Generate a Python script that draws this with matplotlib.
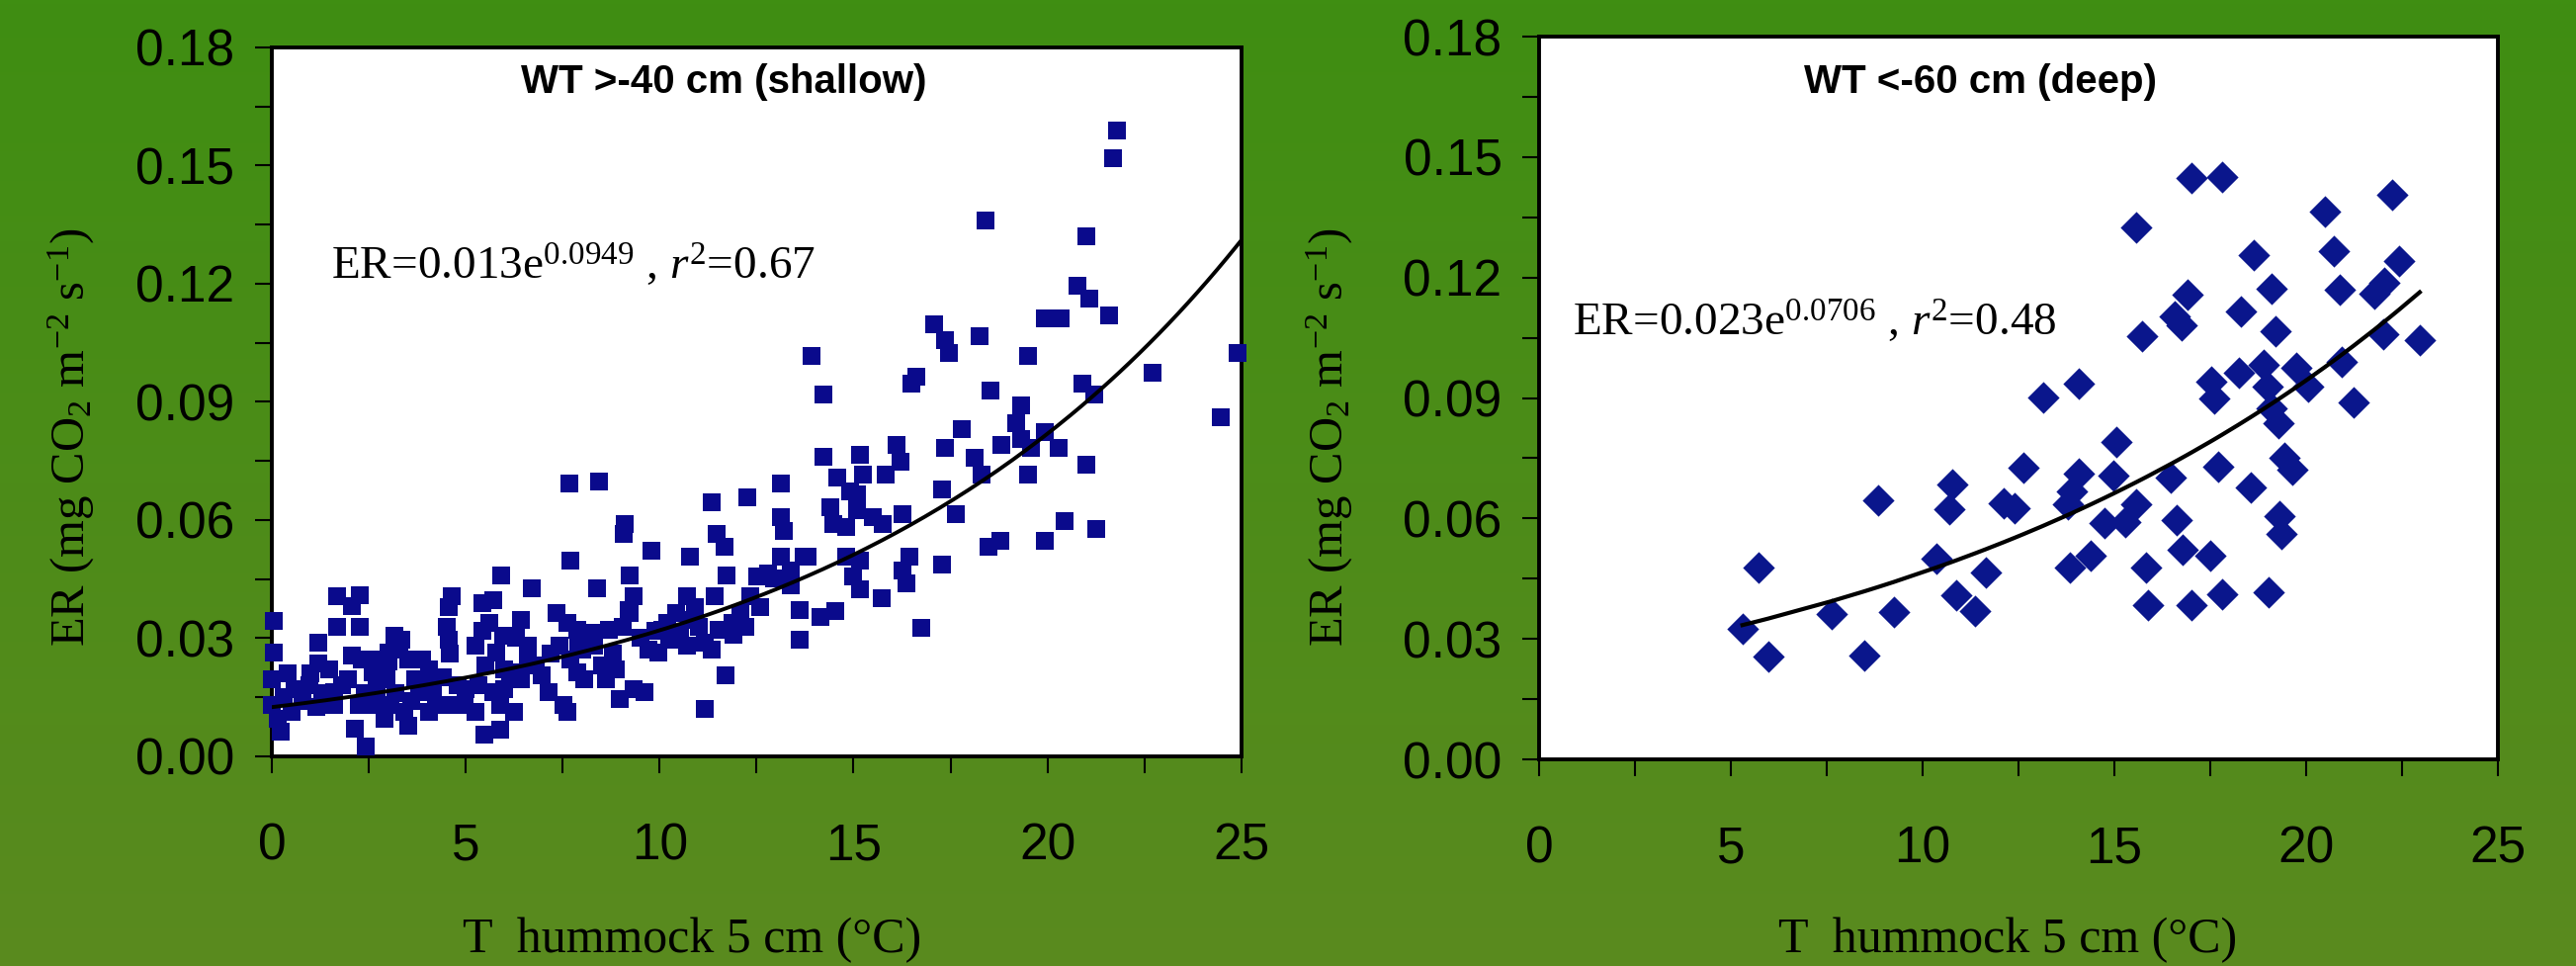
import numpy as np
import matplotlib.pyplot as plt
from matplotlib.ticker import MultipleLocator, FormatStrFormatter
from matplotlib.colors import LinearSegmentedColormap

plt.rcParams['font.family'] = ['Liberation Sans', 'DejaVu Sans']
plt.rcParams['mathtext.fontset'] = 'custom'
plt.rcParams['mathtext.rm'] = 'Liberation Serif'
plt.rcParams['mathtext.it'] = 'Liberation Serif:italic'

# shallow water table (squares)
t_shallow = [
    7.67, 8.45, 11.34, 12.25, 9.11, 9.08, 9.79, 7.70, 10.79, 11.47, 11.68, 9.24, 11.73, 11.43,
    10.7, 9.34, 9.2, 8.38, 6.70, 5.92, 4.65, 4.56, 4.51, 4.56, 4.6, 5.42, 5.7, 1.69, 2.28, 2.06,
    1.69, 2.26, 0.05, 0.05, 1.19, 1.19, 1.47, 0.6, 0.0, 0.01, 0.15, 0.24, 1.15, 2.06, 2.33,
    2.15, 2.42, 3.15, 3.01, 3.33, 3.3, 2.6, 2.7, 2.6, 2.97, 3.06, 3.42, 3.51, 3.88, 4.06, 3.7,
    4.15, 4.24, 1.6, 1.6, 1.97, 2.24, 4.79, 4.97, 5.24, 5.33, 5.5, 5.24, 5.42, 5.6, 5.79, 5.97,
    5.47, 5.88, 5.7, 5.88, 6.24, 6.42, 6.61, 6.15, 6.42, 6.97, 7.15, 7.52, 7.61, 7.33, 7.61,
    7.88, 8.24, 7.42, 7.7, 7.88, 8.06, 8.52, 8.61, 8.88, 8.7, 9.06, 9.24, 8.97, 9.34, 9.61,
    9.97, 10.06, 10.25, 10.52, 10.7, 10.43, 10.79, 11.16, 11.34, 11.16, 11.7, 11.52, 11.88,
    12.07, 12.34, 12.52, 12.8, 0.51, 0.97, 3.79, 2.7, 2.9, 3.51, 4.06, 4.6,
    0.3, 0.8, 1.3, 1.8, 2.4, 3.2, 3.6, 4.4, 5.0, 6.0, 6.6, 7.2, 8.0, 8.3, 9.5, 9.9, 10.2,
    11.0, 11.9, 12.2, 12.6, 10.9, 9.7, 6.8, 7.9, 8.8, 3.0, 4.0, 1.0, 0.4, 6.3, 6.0,
    13.93, 14.23, 17.07, 17.37, 17.46, 18.26, 16.61, 16.48, 19.5, 20.77, 21.07, 19.92, 20.35,
    21.58, 22.72, 24.89, 24.46, 18.52, 20.9, 21.2, 19.33, 19.2, 19.33, 17.8, 17.37, 18.13,
    18.3, 18.8, 19.57, 19.92, 20.3, 21.0, 19.5, 17.29, 17.63, 16.1, 16.2, 15.84, 15.17, 15.25,
    15.08, 14.23, 14.57, 14.91, 13.12, 14.4, 14.48, 14.82, 15.08, 15.5, 15.76, 16.27, 13.12,
    13.2, 13.72, 13.38, 14.82, 15.17, 15.0, 15.17, 16.44, 16.27, 16.36, 17.29, 15.72, 18.48,
    18.78, 19.92, 20.43, 21.27, 13.6, 14.14, 14.53, 13.6, 16.74, 12.95, 13.38, 13.81, 13.12,
    21.8, 21.7, 18.4, 21.0,
]
er_shallow = [
    0.0694, 0.0697, 0.0644, 0.0657, 0.0590, 0.0565, 0.0523, 0.0498, 0.0506, 0.0565, 0.0531,
    0.0460, 0.0460, 0.0406, 0.0406, 0.0406, 0.0372, 0.0427, 0.0427, 0.0460, 0.0406, 0.0380,
    0.0330, 0.0297, 0.0260, 0.0389, 0.0397, 0.0406, 0.0410, 0.0381, 0.0330, 0.0330, 0.0343,
    0.0263, 0.0289, 0.0235, 0.0222, 0.0171, 0.0196, 0.0130, 0.0096, 0.0062, 0.0126, 0.0255,
    0.0247, 0.0071, 0.0025, 0.0305, 0.0263, 0.0297, 0.0272, 0.0213, 0.0171, 0.0130, 0.0196,
    0.0130, 0.0113, 0.0247, 0.0247, 0.0222, 0.0196, 0.0163, 0.0130, 0.0163, 0.0130, 0.0196,
    0.0130, 0.0180, 0.0130, 0.0113, 0.0180, 0.0230, 0.0280, 0.0320, 0.0338, 0.0263, 0.0305,
    0.0054, 0.0067, 0.0163, 0.0130, 0.0113, 0.0347, 0.0280, 0.0213, 0.0196, 0.0205, 0.0163,
    0.0130, 0.0113, 0.0364, 0.0338, 0.0322, 0.0313, 0.0280, 0.0247, 0.0213, 0.0196, 0.0230,
    0.0196, 0.0222, 0.0322, 0.0330, 0.0364, 0.0146, 0.0171, 0.0163, 0.0263, 0.0322, 0.0297,
    0.0313, 0.0280, 0.0364, 0.0347, 0.0288, 0.0272, 0.0121, 0.0205, 0.0322, 0.0338, 0.0364,
    0.0406, 0.0456, 0.0464, 0.0113, 0.0180, 0.0163, 0.0247, 0.0096, 0.0079, 0.0113, 0.0130,
    0.015, 0.014, 0.016, 0.018, 0.016, 0.016, 0.014, 0.020, 0.017, 0.022, 0.024, 0.026, 0.027,
    0.028, 0.030, 0.032, 0.034, 0.033, 0.031, 0.033, 0.038, 0.038, 0.027, 0.023, 0.029, 0.026,
    0.024, 0.018, 0.021, 0.021, 0.030, 0.017,
    0.1017, 0.0920, 0.1096, 0.1058, 0.1025, 0.1067, 0.0964, 0.0946, 0.1017, 0.1195, 0.1162,
    0.1112, 0.1112, 0.1120, 0.0975, 0.1025, 0.0862, 0.0929, 0.0946, 0.0920, 0.0890, 0.0845,
    0.0807, 0.0832, 0.0782, 0.0757, 0.0715, 0.0790, 0.0782, 0.0824, 0.0782, 0.0740, 0.0715,
    0.0678, 0.0615, 0.0790, 0.0748, 0.0715, 0.0765, 0.0715, 0.0665, 0.0761, 0.0707, 0.0673,
    0.0694, 0.0632, 0.0590, 0.0582, 0.0624, 0.0607, 0.0590, 0.0615, 0.0607, 0.0573, 0.0506,
    0.0472, 0.0506, 0.0498, 0.0456, 0.0423, 0.0506, 0.0473, 0.0439, 0.0486, 0.0401, 0.0531,
    0.0548, 0.0548, 0.0598, 0.0577, 0.0372, 0.0355, 0.0368, 0.0297, 0.0326, 0.0451, 0.0434,
    0.0506, 0.0506,
    0.159, 0.152, 0.136, 0.132,
]

# deep water table (diamonds)
t_deep = [
    5.3, 5.73, 5.97, 7.62, 8.48, 8.84, 9.25, 10.36, 10.77, 10.69, 10.88, 11.37, 11.65, 12.12,
    12.4, 12.62, 13.13, 13.78, 13.84, 14.06, 14.06, 13.9, 14.38, 14.74, 15.06, 14.98, 15.28,
    15.56, 15.56, 15.73, 15.82, 15.88, 16.48, 16.63, 16.57, 16.74, 16.91, 16.78, 17.02, 17.0,
    17.49, 17.6, 17.53, 17.7, 17.81, 17.81, 18.24, 18.3, 18.63, 18.56, 18.88, 19.03, 19.1,
    19.2, 18.99, 19.1, 19.27, 19.31, 19.36, 19.42, 19.64, 19.74, 20.06, 20.49, 20.71, 20.88,
    20.92, 21.24, 21.78, 22.04, 22.0, 22.25, 22.42, 22.96,
]
er_deep = [
    0.0324, 0.0477, 0.0255, 0.0362, 0.0258, 0.0645, 0.0367, 0.0500, 0.0684, 0.0622, 0.0408,
    0.0370, 0.0466, 0.0638, 0.0625, 0.0726, 0.0901, 0.0635, 0.0477, 0.0936, 0.0711, 0.0668,
    0.0508, 0.0589, 0.0791, 0.0707, 0.0592, 0.0635, 0.1326, 0.1054, 0.0477, 0.0385, 0.0702,
    0.0595, 0.1104, 0.1081, 0.1158, 0.0523, 0.1448, 0.0385, 0.0508, 0.0898, 0.0940, 0.0729,
    0.1451, 0.0411, 0.0963, 0.1116, 0.1257, 0.0676, 0.0982, 0.0416, 0.1173, 0.1066, 0.0928,
    0.0875, 0.0837, 0.0607, 0.0561, 0.0752, 0.0722, 0.0974, 0.0928, 0.1364, 0.1265, 0.1170,
    0.0989, 0.0890, 0.1161, 0.1188, 0.1058, 0.1405, 0.1242, 0.1043,
]

# exponential fits as drawn on the chart
fit_shallow = (0.0125, 0.094)
fit_deep = (0.023, 0.0706)

fig = plt.figure(figsize=(26.06, 9.77), dpi=100)

# green gradient background
bg = fig.add_axes([0, 0, 1, 1], zorder=-10)
cmap = LinearSegmentedColormap.from_list('bg', ['#3f8e12', '#5a8a1f'])
bg.imshow(np.linspace(0, 1, 256).reshape(-1, 1), aspect='auto', cmap=cmap,
          extent=[0, 1, 0, 1], origin='upper')
bg.axis('off')

ax1 = fig.add_axes([0.1055, 0.2170, 0.3764, 0.7339])
ax2 = fig.add_axes([0.5975, 0.2139, 0.3722, 0.7482])


def style(ax):
    ax.set_facecolor('white')
    ax.set_xlim(0, 25)
    ax.set_ylim(0, 0.18)
    ax.xaxis.set_major_locator(MultipleLocator(5))
    ax.xaxis.set_minor_locator(MultipleLocator(2.5))
    ax.yaxis.set_major_locator(MultipleLocator(0.03))
    ax.yaxis.set_minor_locator(MultipleLocator(0.015))
    ax.yaxis.set_major_formatter(FormatStrFormatter('%.2f'))
    ax.tick_params(which='both', direction='out', length=12, width=1.5, color='black')
    ax.tick_params(axis='y', which='major', pad=15, labelsize=37)
    ax.tick_params(axis='x', which='major', pad=36, labelsize=37)
    for sp in ax.spines.values():
        sp.set_linewidth(2.8)
        sp.set_color('black')


style(ax1)
style(ax2)

# left panel
ax1.scatter(t_shallow, er_shallow, marker='s', s=180, color='#0a0a8c',
            linewidths=0, clip_on=False, zorder=3)
tt = np.linspace(0, 25, 200)
ax1.plot(tt, fit_shallow[0] * np.exp(fit_shallow[1] * tt), color='black', lw=2.8, zorder=4)
ax1.text(0.466, 0.951, 'WT >-40 cm (shallow)', transform=ax1.transAxes,
         ha='center', va='center', fontsize=29, fontweight='bold')
ax1.text(0.061, 0.692, r'ER=0.013$\mathrm{e}^{0.0949}$ , $r^{2}$=0.67', transform=ax1.transAxes,
         ha='left', va='center', fontsize=34, family='Liberation Serif')

# right panel
ax2.scatter(t_deep, er_deep, marker='D', s=270, color='#0a168c',
            linewidths=0, clip_on=False, zorder=3)
td = np.sort(np.array(t_deep))
ax2.plot(td, fit_deep[0] * np.exp(fit_deep[1] * td), color='black', lw=3.0, zorder=4)
ax2.text(0.460, 0.937, 'WT <-60 cm (deep)', transform=ax2.transAxes,
         ha='center', va='center', fontsize=29, fontweight='bold')
ax2.text(0.035, 0.605, r'ER=0.023$\mathrm{e}^{0.0706}$ , $r^{2}$=0.48', transform=ax2.transAxes,
         ha='left', va='center', fontsize=34, family='Liberation Serif')

ylab = r'ER (mg CO$_2$ m$^{-2}$ s$^{-1}$)'
xlab = 'T  hummock 5 cm (°C)'
for xl, yl in [(700, 72), (2031, 1345)]:
    fig.text(yl / 2606, 1 - 442 / 977, ylab, rotation=90, ha='center', va='center',
             fontsize=35, family='Liberation Serif')
    fig.text(xl / 2606, (977 - 963) / 977, xlab, ha='center', va='baseline',
             fontsize=36, family='Liberation Serif')

fig.savefig('out.png', dpi=100)
